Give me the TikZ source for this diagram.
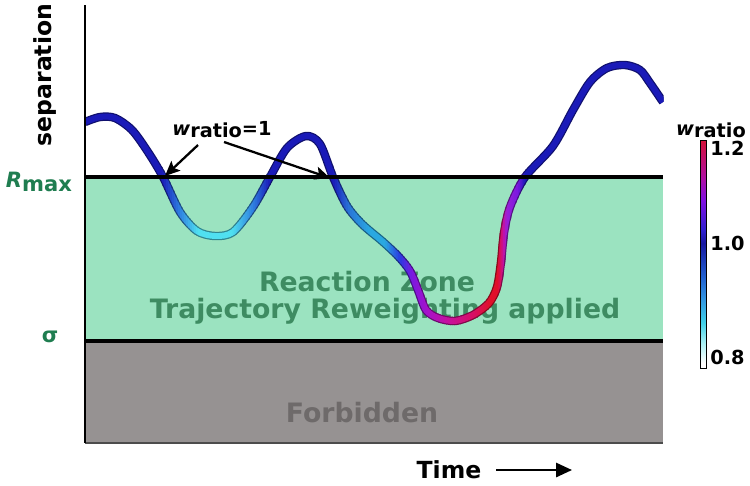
\documentclass[tikz,border=0pt]{standalone}
\usepackage{fontspec}
\setmainfont{DejaVu Sans}
\usetikzlibrary{arrows.meta}
\definecolor{zonefill}{HTML}{9BE3C0}
\definecolor{forbfill}{HTML}{969292}
\definecolor{zonetext}{HTML}{3E8C62}
\definecolor{labgreen}{HTML}{1F7D50}
\definecolor{forbtext}{HTML}{6E6A6A}
% trajectory colours
\definecolor{cblue}{HTML}{1A1AB8}
\definecolor{cmid}{HTML}{2F80E0}
\definecolor{ccyan}{HTML}{50E0F0}
\definecolor{cmidb}{HTML}{2A78D8}
\definecolor{clight}{HTML}{2AA8E0}
\definecolor{cbluetwo}{HTML}{2A3AE0}
\definecolor{cpurp}{HTML}{7A18E0}
\definecolor{cmagA}{HTML}{A812C8}
\definecolor{cmagB}{HTML}{C8109A}
\definecolor{cmagC}{HTML}{D81060}
\definecolor{cred}{HTML}{E0102A}
\definecolor{cpurpB}{HTML}{9A20D8}
% colourbar colours
\definecolor{cbA}{HTML}{A8F0F4}
\definecolor{cbB}{HTML}{40D0E8}
\definecolor{cbC}{HTML}{3090E0}
\definecolor{cbD}{HTML}{2060D0}
\definecolor{cbE}{HTML}{1818A0}
\definecolor{cbF}{HTML}{3020D0}
\definecolor{cbG}{HTML}{8010E0}
\definecolor{cbH}{HTML}{B010A0}
\definecolor{cbI}{HTML}{D0103C}
\pgfdeclareverticalshading{cbar}{100bp}{color(0bp)=(white); color(26.1bp)=(white); color(30.5bp)=(cbA); color(34.9bp)=(cbB); color(40.6bp)=(cbC); color(45bp)=(cbD); color(52.4bp)=(cbE); color(55.3bp)=(cbF); color(61.8bp)=(cbG); color(66.9bp)=(cbH); color(74.6bp)=(cbI); color(100bp)=(cbI)}
\def\trajpath{plot[smooth,tension=0.5] coordinates {(85,122) (100,117) (115,118) (132,130) (148,152) (163,177) (180,212) (197,231) (215,236) (233,232) (253,207) (270,177) (287,148) (306,136) (320,144) (333,177) (347,206) (362,224) (382,241) (398,256) (410,271) (418,290) (426,310) (438,318) (455,321) (473,315) (489,303) (497,287) (501,262) (504,233) (510,207) (525,177) (553,146) (573,110) (590,82) (607,68) (625,65) (640,70) (650,83) (663,102)}}
\begin{document}
\begin{tikzpicture}[x=0.02cm,y=-0.02cm,
  zonelab/.style={text=zonetext,font=\fontsize{15.2}{17}\selectfont\bfseries},
  forblab/.style={text=forbtext,font=\fontsize{15.2}{17}\selectfont\bfseries},
  axlab/.style={font=\fontsize{13.4}{15}\selectfont\bfseries},
  greenlab/.style={text=labgreen,font=\fontsize{12}{14}\selectfont\bfseries},
  smalllab/.style={font=\fontsize{11}{13}\selectfont\bfseries,inner sep=0pt},
  bound/.style={line width=2pt,black},
  pointer/.style={line width=1.3pt,-{Stealth[length=8.5pt,width=7.5pt,inset=1.8pt]}}]
\useasboundingbox (0,0) rectangle (750,485);
% regions
\fill[zonefill] (85,177) rectangle (663,341);
\fill[forbfill] (85,341) rectangle (663,443);
\draw[line width=1.2pt,black!70] (85,443) -- (663,443);
% region texts
\node[zonelab] (rz) at (367,282) {Reaction Zone};
\node[zonelab] (trw) at (385,311) {Trajectory Reweighting applied};
\node[forblab] (forb) at (362,413) {Forbidden};
% trajectory
\foreach \lw/\dk in {4.8pt/60,3.4pt/100}{
\foreach \xa/\xb/\ca/\cb/\N in {85/162/cblue/cblue/1, 162/180/cblue/cmid/9, 180/198/cmid/ccyan/9, 198/232/ccyan/ccyan/1, 232/253/ccyan/cmid/11, 253/270/cmid/cblue/9, 270/333/cblue/cblue/1, 333/350/cblue/cmidb/9, 350/370/cmidb/clight/10, 370/385/clight/clight/1, 385/400/clight/cbluetwo/8, 400/412/cbluetwo/cpurp/6, 412/428/cpurp/cmagA/8, 428/450/cmagA/cmagB/11, 450/475/cmagB/cmagC/12, 475/490/cmagC/cred/8, 490/498/cred/cred/1, 498/503/cred/cmagB/3, 503/507/cmagB/cpurpB/2, 507/518/cpurpB/cpurp/6, 518/525/cpurp/cblue/4, 525/663/cblue/cblue/1}{
  \foreach \i in {1,...,\N}{
    \pgfmathsetmacro\xl{\xa+(\xb-\xa)*(\i-1)/\N}
    \pgfmathsetmacro\xr{\xa+(\xb-\xa)*\i/\N+0.6}
    \pgfmathtruncatemacro\pc{100*(\i-0.5)/\N}
    \begin{scope}
      \clip (\xl,0) rectangle (\xr,485);
      \draw[line width=\lw,draw=\cb!\pc!\ca!\dk!black,line join=round] \trajpath;
    \end{scope}
  }
}}
% boundaries and axis
\draw[bound] (85,177) -- (663,177);
\draw[bound] (85,341) -- (663,341);
\draw[line width=1.2pt] (85,5) -- (85,443);
% axis labels
\node[axlab,rotate=90] (sep) at (45,75) {separation};
\node[greenlab] (rmax) at (39,182) {\textit{R}\raisebox{-2.3pt}{max}};
\node[greenlab] (sig) at (50,337) {σ};
\node[axlab] (time) at (449,470) {Time};
\coordinate (tend) at (572,470);
\draw[line width=1.3pt,-{Triangle[length=9pt,width=8pt]}] ([xshift=0.95cm]time.center) -- (tend);
% w_ratio = 1 pointers
\node[smalllab] (wlab) at (222,130) {\textit{w}\raisebox{-1.2pt}{ratio}=1};
\coordinate (a1s) at (198,145);
\coordinate (a2s) at (224,142);
\coordinate (c1) at (165,176);
\coordinate (c2) at (330,178);
\draw[pointer] (a1s) -- (c1);
\draw[pointer] (a2s) -- (c2);
% colour bar
\shade[shading=cbar] (700,140) rectangle (706,368);
\draw[line width=0.5pt] (700,140) rectangle (706,368);
\node[smalllab] (cbt) at (711,130) {\textit{w}\raisebox{-1.2pt}{ratio}};
\node[smalllab,anchor=west] (t12) at (710,148) {1.2};
\node[smalllab,anchor=west] (t10) at (710,243) {1.0};
\node[smalllab,anchor=west] (t08) at (710,357) {0.8};
\end{tikzpicture}
\end{document}
